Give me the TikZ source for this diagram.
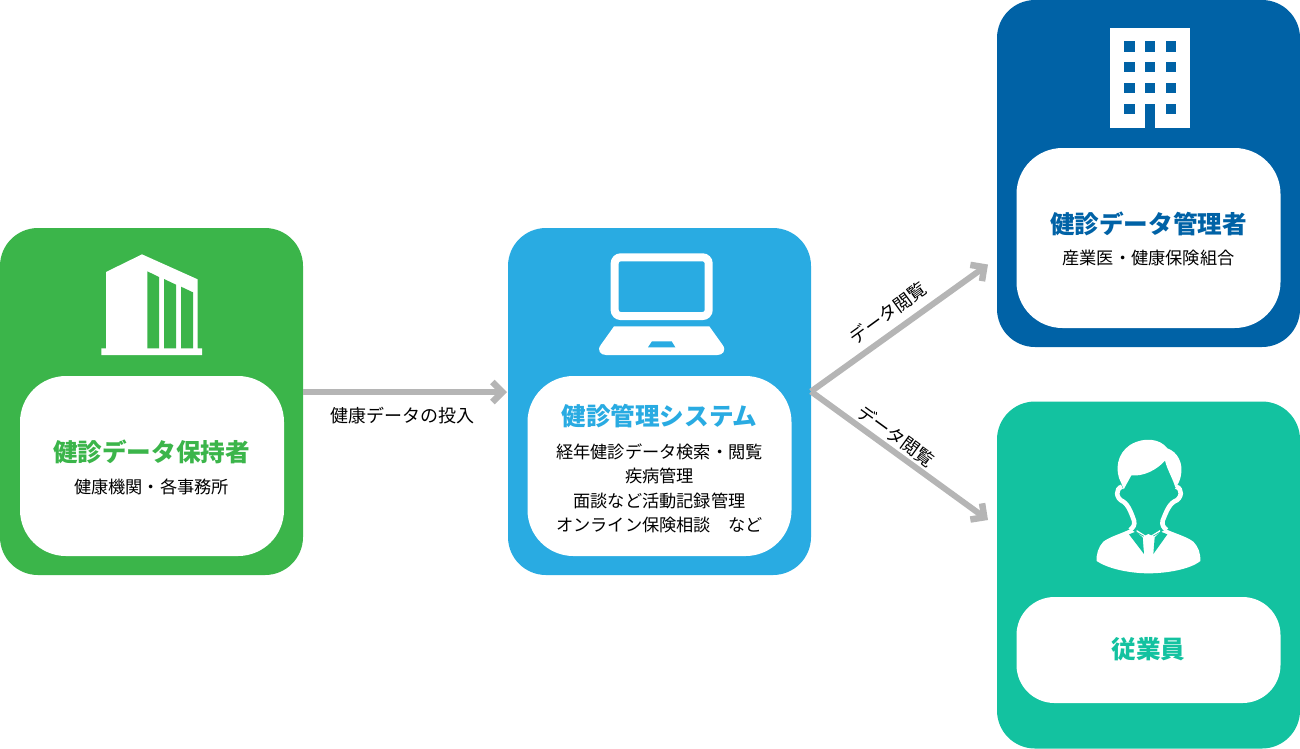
\documentclass[tikz,border=0pt]{standalone}
\usepackage{fontspec}
\setmainfont{Noto Sans CJK JP}
\usetikzlibrary{arrows.meta}
\definecolor{cgreen}{HTML}{3BB54A}
\definecolor{cblue}{HTML}{29ABE2}
\definecolor{cnavy}{HTML}{0062A6}
\definecolor{cteal}{HTML}{13C2A0}
\definecolor{cgray}{HTML}{B5B5B5}
\tikzset{
  card/.style={fill=#1,draw=none,rounded corners=38pt,minimum width=303pt,minimum height=347pt,inner sep=0pt,outer sep=0pt},
  panel/.style={fill=white,draw=none,rounded corners=46pt,minimum width=264pt,inner sep=0pt,outer sep=0pt},
  ttl/.style={font=\fontsize{24.6pt}{28pt}\selectfont\bfseries,text=#1,inner sep=0pt},
  sub/.style={font=\fontsize{17.2pt}{24.5pt}\selectfont,align=center,inner sep=0pt},
  lbl/.style={font=\fontsize{18pt}{20pt}\selectfont,inner sep=0pt},
  flow/.style={draw=cgray,line width=6pt,-{Straight Barb[length=10pt,width=20pt,line width=6.5pt]}},
  icon/.style={fill=white,draw=none},
}
\begin{document}
\begin{tikzpicture}[x=1pt,y=-1pt]
\useasboundingbox (0,0) rectangle (1300,748);
% cards
\node[card=cgreen] (green) at (151.5,401.5) {};
\node[card=cblue] (blue) at (659.5,401.5) {};
\node[card=cnavy] (navy) at (1148.5,173.5) {};
\node[card=cteal] (teal) at (1148.5,575) {};
% panels
\node[panel,minimum height=180pt] (pgreen) at (152,466) {};
\node[panel,minimum height=180pt] (pblue) at (659.5,466) {};
\node[panel,minimum height=180pt] (pnavy) at (1148.5,238) {};
\node[panel,minimum height=106pt,rounded corners=38pt] (pteal) at (1148.5,650) {};
% connectors
\coordinate (fork) at ([yshift=10pt]blue.east);
\coordinate (navyin) at ([yshift=-91pt,xshift=-9pt]navy.west);
\coordinate (tealin) at ([yshift=55pt,xshift=-9pt]teal.west);
\draw[flow] ([yshift=9.5pt]green.east) -- ([yshift=9.5pt,xshift=-1pt]blue.west);
\draw[flow] (fork) -- (navyin);
\draw[flow] (fork) -- (tealin);
% texts
\node[ttl=cgreen] (t1) at (151.5,451.5) {健診データ保持者};
\node[sub] (s1) at (151.5,486.5) {健康機関・各事務所};
\node[ttl=cblue] (t2) at (659.5,416.5) {健診管理システム};
\node[sub] (s2) at (659.5,488.5) {経年健診データ検索・閲覧\\疾病管理\\面談など活動記録管理\\オンライン保険相談　など};
\node[ttl=cnavy] (t3) at (1148.5,223.5) {健診データ管理者};
\node[sub] (s3) at (1148.5,257.5) {産業医・健康保険組合};
\node[ttl=cteal] (t4) at (1148.5,649.5) {従業員};
\node[lbl] (l1) at (402,416) {健康データの投入};
\node[lbl,rotate=36] (l2) at (888,313) {データ閲覧};
\node[lbl,rotate=-36] (l3) at (896,436) {データ閲覧};
% icon: building (green)
\begin{scope}[shift={(80,240)},x=.33333pt,y=-.33333pt]
\fill[icon] (78,96) -- (186,43) -- (353,118) -- (353,325) -- (366,325) -- (366,345) -- (64,345) -- (64,325) -- (78,325) -- cycle;
\fill[cgreen] (202,94) -- (237,111) -- (237,325) -- (202,325) -- cycle;
\fill[cgreen] (252,117) -- (288,134) -- (288,325) -- (252,325) -- cycle;
\fill[cgreen] (303,140) -- (339,157) -- (339,325) -- (303,325) -- cycle;
\end{scope}
% icon: laptop
\begin{scope}[shift={(590,240)},x=.33333pt,y=-.33333pt]
\draw[white,line width=8pt,rounded corners=6pt] (74,52) rectangle (356,228);
\fill[icon] (72,259) -- (358,259) -- (398,315) .. controls (410,332) and (398,345) .. (382,345) -- (48,345) .. controls (32,345) and (20,332) .. (32,315) -- cycle;
\fill[cblue] (186,304) -- (245,304) -- (256,322) -- (174,322) -- cycle;
\end{scope}
% icon: office
\begin{scope}[shift={(1090,15)},x=.33333pt,y=-.33333pt]
\fill[icon] (61,38) rectangle (300,338);
\fill[cnavy] (165,267) rectangle (196,340);
\foreach \px in {103,165,228}{\foreach \py in {79,141,203}{\fill[cnavy] (\px,\py) rectangle ++(31,31);}}
\fill[cnavy] (103,266) rectangle ++(31,31);
\fill[cnavy] (228,266) rectangle ++(31,31);
\end{scope}
% icon: person
\begin{scope}[shift={(1080,430)},x=.33333pt,y=-.33333pt]
\fill[icon] (124,160) .. controls (102,120) and (112,70) .. (150,45) .. controls (190,20) and (240,25) .. (262,55) .. controls (292,65) and (312,100) .. (302,140) .. controls (300,150) and (294,165) .. (286,172) .. controls (278,145) and (262,120) .. (255,92) .. controls (230,120) and (190,140) .. (154,136) -- (131,178) -- cycle;
\draw[white,line width=4.6pt] (126,170) .. controls (106,175) and (106,205) .. (130,215) .. controls (146,225) and (156,255) .. (162,272) .. controls (165,285) and (160,292) .. (150,300);
\draw[white,line width=4.6pt] (288,170) .. controls (308,175) and (308,205) .. (282,215) .. controls (265,225) and (255,255) .. (248,272) .. controls (245,285) and (250,292) .. (260,300);
\fill[icon] (150,298) .. controls (120,312) and (90,320) .. (70,335) .. controls (55,350) and (48,375) .. (50,393) .. controls (90,420) and (160,430) .. (205,430) .. controls (260,430) and (330,418) .. (361,393) .. controls (362,370) and (355,350) .. (340,335) .. controls (320,320) and (290,312) .. (258,298) -- (205,328) -- cycle;
\fill[cteal] (147,313) -- (167,305) -- (188,322) -- (192,372) -- cycle;
\fill[cteal] (262,313) -- (242,305) -- (224,322) -- (220,372) -- cycle;
\fill[icon] (190,320) -- (205,312) -- (222,320) -- (216,338) -- (220,374) -- (192,374) -- (197,338) -- cycle;
\fill[icon] (170,305) -- (205,325) -- (240,305) -- (240,300) -- (205,322) -- (170,300) -- cycle;
\end{scope}
\end{tikzpicture}
\end{document}
